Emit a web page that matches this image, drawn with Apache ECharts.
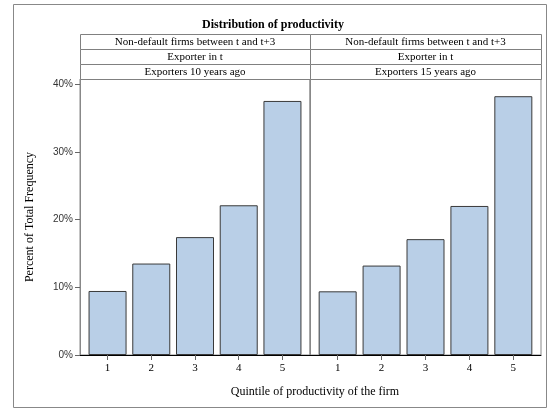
<!DOCTYPE html>
<html><head><meta charset="utf-8">
<script src="https://cdn.jsdelivr.net/npm/echarts@6/dist/echarts.min.js"></script>
<style>html,body{margin:0;padding:0;background:#fff}#c{width:548px;height:410px}</style>
</head><body><div id="c"></div>
<script>
const categories = [1, 2, 3, 4, 5];
const panel1Values = [9.45, 13.5, 17.4, 22.1, 37.5];
const panel2Values = [9.4, 13.2, 17.1, 22.0, 38.2];
const yTicks = [0, 10, 20, 30, 40];
const stripRow1 = ["Non-default firms between t and t+3", "Non-default firms between t and t+3"];
const stripRow2 = ["Exporter in t", "Exporter in t"];
const stripRow3 = ["Exporters 10 years ago", "Exporters 15 years ago"];
const titleText = "Distribution of productivity";
const xTitle = "Quintile of productivity of the firm";
const yTitle = "Percent of Total Frequency";

const serif = "'Liberation Serif','DejaVu Serif',serif";
const sans = "'Liberation Sans','DejaVu Sans',sans-serif";
const panels = [{left: 80, width: 230}, {left: 310, width: 231}];
const plotTop = 79, plotBottom = 355;
const stripTop = 34, stripH = 15;

const grids = panels.map(p => ({left: p.left, width: p.width, top: plotTop, height: plotBottom - plotTop,
  show: true, borderColor: '#888', borderWidth: 1, backgroundColor: 'transparent'}));

const xAxes = panels.map((p, i) => ({
  type: 'value', gridIndex: i, min: 0.37, max: 5.63,
  axisLine: {show: true, onZero: false, lineStyle: {color: '#000', width: 1}},
  axisTick: {show: true, customValues: categories, length: 5, lineStyle: {color: '#666'}},
  axisLabel: {customValues: categories, fontFamily: serif, fontSize: 11, color: '#000', margin: 8},
  splitLine: {show: false}
}));

const yAxes = panels.map((p, i) => ({
  type: 'value', gridIndex: i, min: 0, max: 40.74,
  name: i === 0 ? yTitle : '', nameLocation: 'middle', nameGap: 44, nameRotate: 90,
  nameTextStyle: {fontFamily: serif, fontSize: 12, color: '#000'},
  axisLine: {show: true, lineStyle: {color: '#888'}},
  axisTick: {show: i === 0, customValues: yTicks, length: 5, lineStyle: {color: '#666'}},
  axisLabel: {show: i === 0, customValues: yTicks, formatter: v => v + '%', fontFamily: sans, fontSize: 10, color: '#333', margin: 7},
  splitLine: {show: false}
}));

const series = [panel1Values, panel2Values].map((vals, i) => ({
  type: 'bar', xAxisIndex: i, yAxisIndex: i, barWidth: 38,
  data: categories.map((c, k) => [c, vals[k]]),
  itemStyle: {color: '#B9CFE7', borderColor: '#3a3a3a', borderWidth: 1},
  emphasis: {disabled: true}, animation: false
}));

const graphics = [{type: 'rect', shape: {x: 13.5, y: 4.5, width: 533, height: 403}, style: {fill: 'none', stroke: '#888', lineWidth: 1}, silent: true}];
[stripRow1, stripRow2, stripRow3].forEach((row, r) => {
  panels.forEach((p, i) => {
    const y = stripTop + r * stripH;
    graphics.push({type: 'rect', shape: {x: p.left + 0.5, y: y + 0.5, width: p.width, height: stripH}, style: {fill: '#fff', stroke: '#808080', lineWidth: 1}, silent: true});
    graphics.push({type: 'text', x: p.left + p.width / 2, y: y + stripH / 2 + 1, style: {text: row[i], fontFamily: serif, fontSize: 11, fill: '#000', align: 'center', verticalAlign: 'middle'}, silent: true});
  });
});

const chart = echarts.init(document.getElementById('c'), null, {renderer: 'canvas'});
chart.setOption({
  animation: false,
  title: [
    {text: titleText, left: 268, top: 14, textAlign: 'center', textStyle: {fontFamily: serif, fontSize: 12, fontWeight: 'bold', color: '#000'}},
    {text: xTitle, left: 310, top: 381, textAlign: 'center', textStyle: {fontFamily: serif, fontSize: 12, fontWeight: 'normal', color: '#000'}}
  ],
  grid: grids, xAxis: xAxes, yAxis: yAxes, series: series, graphic: graphics
});
</script></body></html>
